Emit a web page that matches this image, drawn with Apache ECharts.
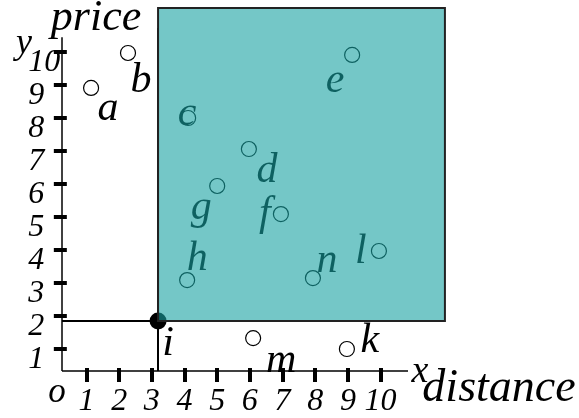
<!DOCTYPE html>
<html>
<head>
<meta charset="utf-8">
<script src="https://cdn.jsdelivr.net/npm/echarts@6/dist/echarts.min.js"></script>
<style>
  html, body { margin: 0; padding: 0; background: #fff; }
  #chart { width: 579px; height: 418px; }
</style>
</head>
<body>
<div id="chart"></div>
<script>
// data
const pointNames = ["a", "b", "c", "d", "e", "f", "g", "h", "n", "l", "m", "k"];
const distance = [1.14, 2.27, 4.11, 5.97, 9.13, 6.95, 5.0, 4.08, 7.93, 9.95, 6.1, 8.97];
const price = [8.91, 9.97, 8.0, 7.06, 9.91, 5.09, 5.94, 3.09, 3.15, 3.97, 1.33, 1.0];

const pivotName = "i";
const pivotDistance = 3.19;
const pivotPrice = 1.85;

const xTicks = [1, 2, 3, 4, 5, 6, 7, 8, 9, 10];
const yTicks = [1, 2, 3, 4, 5, 6, 7, 8, 9, 10];

// drawn axis lines and the dominated region (data units)
const axisCross = [0.25, 0.33];
const xAxisEnd = 10.84;
const yAxisEnd = 10.45;
const guideTop = 10.73;
const regionCorner = [11.97, 11.33];

// label offsets (px), style only
const labelOffsets = {
  a: [17, 21], b: [13, 28], c: [-1, -4], d: [18, 22], e: [-17, 26], f: [-16, 0],
  g: [-16, 22], h: [10, -21], n: [14, -17], l: [-18, 1], m: [28, 23], k: [23, -8],
  i: [10, 23],
};

const serif = "'Liberation Serif', 'DejaVu Serif', serif";

const chart = echarts.init(document.getElementById("chart"));

const points = pointNames.map((name, idx) => ({
  name,
  value: [distance[idx], price[idx]],
  label: { offset: labelOffsets[name] },
}));

const pointLabel = {
  show: true,
  position: "inside",
  formatter: "{b}",
  fontFamily: serif,
  fontStyle: "italic",
  fontSize: 42,
  color: "#000",
};

const option = {
  animation: false,
  grid: { left: 47.3, right: 133.1, top: 7.45, bottom: 36 },
  xAxis: {
    type: "value",
    min: -0.2,
    max: 12,
    splitLine: { show: false },
    axisLine: { show: false },
    axisTick: {
      show: true,
      inside: true,
      length: 14,
      customValues: xTicks,
      lineStyle: { color: "#000", width: 4 },
    },
    axisLabel: {
      customValues: xTicks,
      margin: 4,
      fontFamily: serif,
      fontStyle: "italic",
      fontSize: 32,
      color: "#000",
      verticalAlign: "top",
    },
  },
  yAxis: {
    type: "value",
    min: 0,
    max: 11.35,
    splitLine: { show: false },
    axisLine: { show: false },
    axisTick: {
      show: true,
      inside: true,
      length: 13,
      customValues: yTicks,
      lineStyle: { color: "#000", width: 4 },
    },
    axisLabel: {
      customValues: yTicks,
      margin: 19,
      align: "left",
      verticalAlign: "top",
      lineHeight: 22,
      fontFamily: serif,
      fontStyle: "italic",
      fontSize: 32,
      color: "#000",
    },
  },
  graphic: [
    { type: "text", x: 96, y: 18, style: { text: "price", font: "italic 44px " + serif, fill: "#000", textAlign: "center", textVerticalAlign: "middle" } },
    { type: "text", x: 24, y: 44, style: { text: "y", font: "italic 36px " + serif, fill: "#000", textAlign: "center", textVerticalAlign: "middle" } },
    { type: "text", x: 57, y: 393, style: { text: "o", font: "italic 35px " + serif, fill: "#000", textAlign: "center", textVerticalAlign: "middle" } },
    { type: "text", x: 420, y: 372, style: { text: "x", font: "italic 38px " + serif, fill: "#000", textAlign: "center", textVerticalAlign: "middle" } },
    { type: "text", x: 499, y: 389, style: { text: "distance", font: "italic 46px " + serif, fill: "#000", textAlign: "center", textVerticalAlign: "middle" } },
  ],
  series: [
    {
      type: "scatter",
      z: 2,
      symbol: "circle",
      symbolSize: 15,
      itemStyle: { color: "transparent", borderColor: "#000", borderWidth: 1.2, opacity: 1 },
      label: pointLabel,
      data: points,
      markLine: {
        silent: true,
        symbol: ["none", "none"],
        label: { show: false },
        lineStyle: { color: "#000", type: "solid", width: 1.5, opacity: 1 },
        data: [
          [{ coord: axisCross }, { coord: [xAxisEnd, axisCross[1]] }],
          [{ coord: axisCross }, { coord: [axisCross[0], yAxisEnd] }],
          [{ coord: [axisCross[0], pivotPrice], lineStyle: { width: 2 } }, { coord: [pivotDistance, pivotPrice] }],
          [{ coord: [pivotDistance, axisCross[1]], lineStyle: { width: 2 } }, { coord: [pivotDistance, guideTop] }],
        ],
      },
    },
    {
      type: "scatter",
      z: 3,
      symbol: "circle",
      symbolSize: 17,
      itemStyle: { color: "#000", opacity: 1 },
      label: Object.assign({}, pointLabel, { offset: labelOffsets[pivotName] }),
      data: [{ name: pivotName, value: [pivotDistance, pivotPrice] }],
    },
    {
      type: "line",
      z: 10,
      data: [],
      markArea: {
        z: 10,
        silent: true,
        label: { show: false },
        itemStyle: { color: "rgba(23,162,162,0.6)", borderColor: "#222", borderWidth: 2, opacity: 1 },
        data: [[{ coord: [pivotDistance, pivotPrice] }, { coord: regionCorner }]],
      },
    },
  ],
};

chart.setOption(option);
</script>
</body>
</html>
